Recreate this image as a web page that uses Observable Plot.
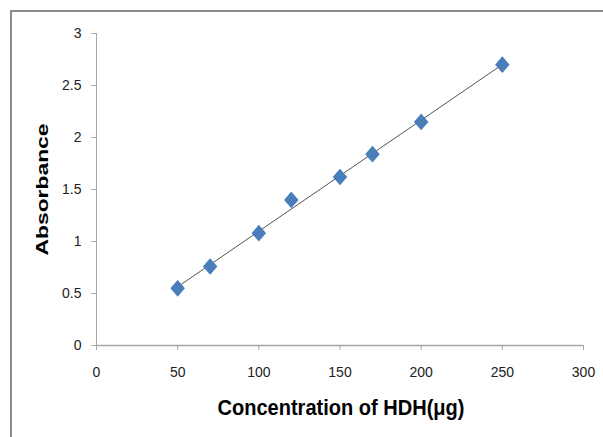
<!DOCTYPE html>
<html>
<head>
<meta charset="utf-8">
<script src="https://cdn.jsdelivr.net/npm/d3@7"></script>
<script src="https://cdn.jsdelivr.net/npm/@observablehq/plot@0.6"></script>
<style>
  html, body { margin: 0; padding: 0; background: #fff; overflow: hidden; }
  #wrap { position: relative; width: 603px; height: 437px; }
  #border { position: absolute; left: 10px; top: 10px; width: 700px; height: 600px;
            border: 2px solid #8c8c8c; pointer-events: none; }
</style>
</head>
<body>
<div id="wrap"><div id="chart"></div><div id="border"></div></div>
<script>
// Data
const concentration = [50, 70, 100, 120, 150, 170, 200, 250];
const absorbance    = [0.55, 0.76, 1.08, 1.40, 1.62, 1.84, 2.15, 2.70];
const xTicks = [0, 50, 100, 150, 200, 250, 300];
const yTicks = [0, 0.5, 1, 1.5, 2, 2.5, 3];
const xLabel = "Concentration of HDH(\u03bcg)";
const yLabel = "Absorbance";

const data = concentration.map((c, i) => ({x: c, y: absorbance[i]}));

// diamond symbol slightly taller than wide
const diamond = {
  draw(context, size) {
    const w = Math.sqrt(2 * size / 1.15) / 2;
    const h = w * 1.15;
    context.moveTo(0, -h);
    context.lineTo(w, 0);
    context.lineTo(0, h);
    context.lineTo(-w, 0);
    context.closePath();
  }
};

const axisGray = "#a6a6a6";
const font = "Liberation Sans, Arial, sans-serif";

const plot = Plot.plot({
  width: 603,
  height: 437,
  marginLeft: 96,
  marginRight: 20,
  marginTop: 33,
  marginBottom: 92,
  style: {fontFamily: font, fontSize: "14px", background: "transparent"},
  x: {domain: [0, 300], ticks: xTicks, label: null},
  y: {domain: [0, 3], ticks: yTicks, label: null},
  marks: [
    Plot.ruleY([0], {stroke: axisGray, strokeWidth: 1.5}),
    Plot.ruleX([0], {stroke: axisGray, strokeWidth: 1}),
    Plot.axisX(xTicks, {tickSize: 5, tickPadding: 17, stroke: axisGray, fill: "#222", fontSize: 14,
      tickFormat: d => String(d), label: null}),
    Plot.axisY(yTicks, {tickSize: 5, tickPadding: 10, stroke: axisGray, fill: "#222", fontSize: 14,
      tickFormat: d => String(d), label: null}),
    Plot.linearRegressionY(data, {x: "x", y: "y", stroke: "#555", strokeWidth: 1, ci: 0}),
    Plot.dot(data, {x: "x", y: "y", symbol: diamond, r: 6.2, fill: "#4a7ebb", stroke: "none"}),
    Plot.text([xLabel], {frameAnchor: "bottom-left", dx: 121, dy: 69, lineAnchor: "bottom", textAnchor: "start",
      text: d => d, fontSize: 22, fontWeight: "bold", fill: "#000", fontFamily: font}),
    Plot.text([yLabel], {frameAnchor: "bottom-left", dx: -49, dy: -90, lineAnchor: "bottom", textAnchor: "start",
      rotate: -90, text: d => d, fontSize: 16, fontWeight: "bold", fill: "#000", fontFamily: font})
  ]
});

// stretch the axis titles to the reference's lengths
plot.querySelectorAll("text").forEach(t => {
  if (t.textContent === xLabel) { t.setAttribute("textLength", 247); t.setAttribute("lengthAdjust", "spacingAndGlyphs"); }
  if (t.textContent === yLabel) { t.setAttribute("textLength", 132); t.setAttribute("lengthAdjust", "spacingAndGlyphs"); }
});

document.getElementById("chart").appendChild(plot);
</script>
</body>
</html>
